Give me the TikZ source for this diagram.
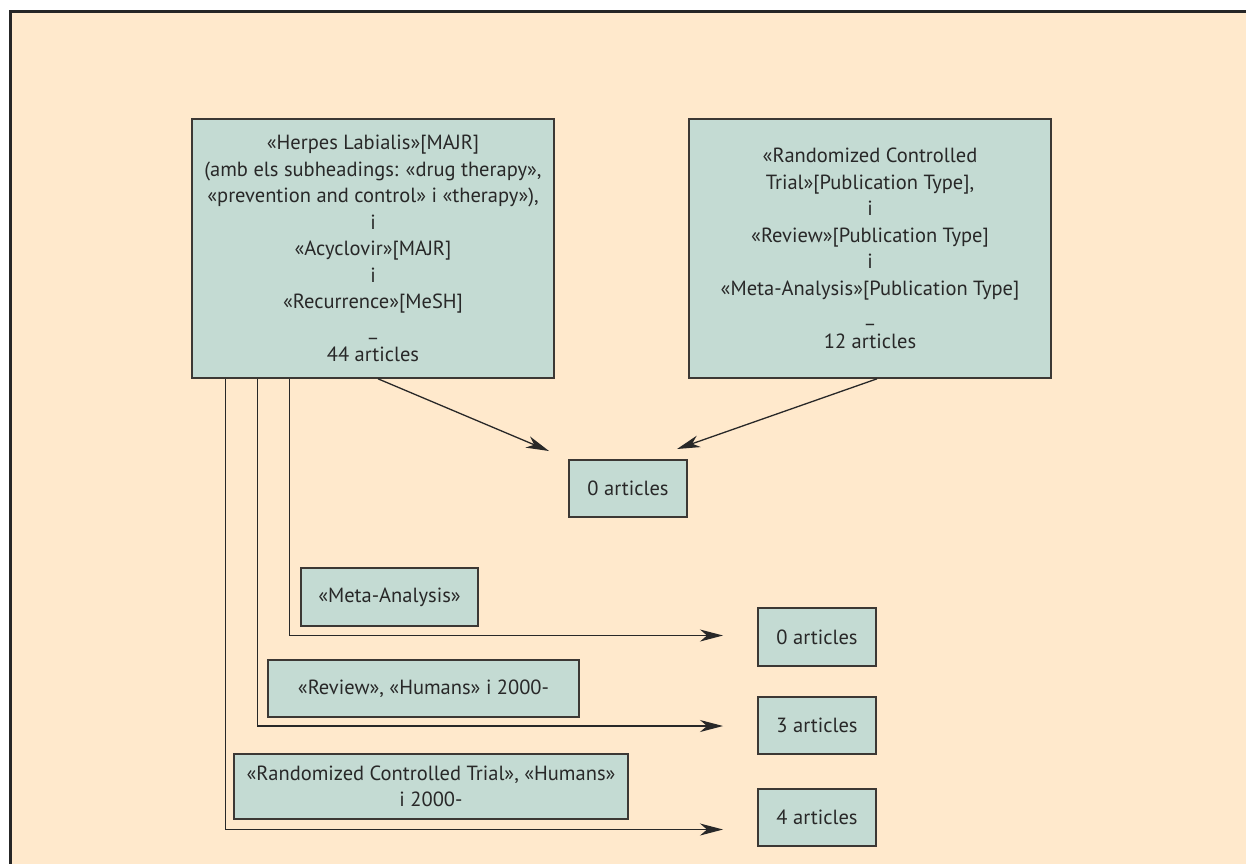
\documentclass[tikz,border=0pt]{standalone}
\usepackage{fontspec}
\setmainfont{PT Sans}
\usetikzlibrary{arrows.meta}
\definecolor{paper}{RGB}{255,233,204}
\definecolor{boxfill}{RGB}{196,219,211}
\definecolor{ink}{RGB}{40,40,40}
\definecolor{rim}{RGB}{60,56,52}
\begin{document}
\begin{tikzpicture}[x=1pt,y=-1pt,
  box/.style={draw=rim, line width=1.6pt, fill=boxfill, text=ink, align=center,
    inner sep=0pt, font=\fontsize{20.5}{26.5}\selectfont},
  link/.style={draw=ink, line width=1.3pt, -{Stealth[length=23pt,width=12pt,inset=7pt]}}]
  % page and frame
  \useasboundingbox (0,0) rectangle (1246,863);
  \fill[white] (0,0) rectangle (1246,863);
  \fill[paper] (10,11) rectangle (1247,864);
  \draw[line width=3pt, draw=black!85] (10.5,864) -- (10.5,11.5) -- (1247,11.5);

  % search boxes
  \node[box, minimum width=362pt, minimum height=259pt] (herpes) at (373,248.5)
    {«Herpes Labialis»[MAJR]\\(amb els subheadings: «drug therapy»,\\«prevention and control» i «therapy»),\\i\\«Acyclovir»[MAJR]\\i\\«Recurrence»[MeSH]\\\_\\44 articles};
  \node[box, minimum width=362pt, minimum height=259pt] (types) at (870,248.5)
    {«Randomized Controlled\\Trial»[Publication Type],\\i\\«Review»[Publication Type]\\i\\«Meta-Analysis»[Publication Type]\\\_\\12 articles};
  \node[box, minimum width=118pt, minimum height=57pt] (both) at (628,488.5) {0 articles};

  % filter labels
  \node[box, minimum width=177pt, minimum height=58pt] (meta) at (389.5,597) {«Meta-Analysis»};
  \node[box, minimum width=311pt, minimum height=57pt] (rev) at (423.5,688.5) {«Review», «Humans» i 2000-};
  \node[box, minimum width=394pt, minimum height=65pt] (rct) at (431,786.5) {«Randomized Controlled Trial», «Humans»\\i 2000-};

  % results
  \node[box, minimum width=118pt, minimum height=58pt] (r0) at (817,637) {0 articles};
  \node[box, minimum width=118pt, minimum height=57pt] (r3) at (817,725.5) {3 articles};
  \node[box, minimum width=118pt, minimum height=57pt] (r4) at (817,817.5) {4 articles};

  % arrow ends
  \coordinate (inL) at (549,451);
  \coordinate (inR) at (677,449);
  \coordinate (t0) at (723,635.5);
  \coordinate (t3) at (723,726);
  \coordinate (t4) at (723,829.5);

  % combined search
  \draw[link] ([xshift=5pt]herpes.south) -- (inL);
  \draw[link] ([xshift=7pt]types.south) -- (inR);

  % filtered searches
  \draw[link] ([xshift=98pt]herpes.south west) |- (t0);
  \draw[link] ([xshift=66pt]herpes.south west) |- (t3);
  \draw[link] ([xshift=34pt]herpes.south west) |- (t4);
\end{tikzpicture}
\end{document}
